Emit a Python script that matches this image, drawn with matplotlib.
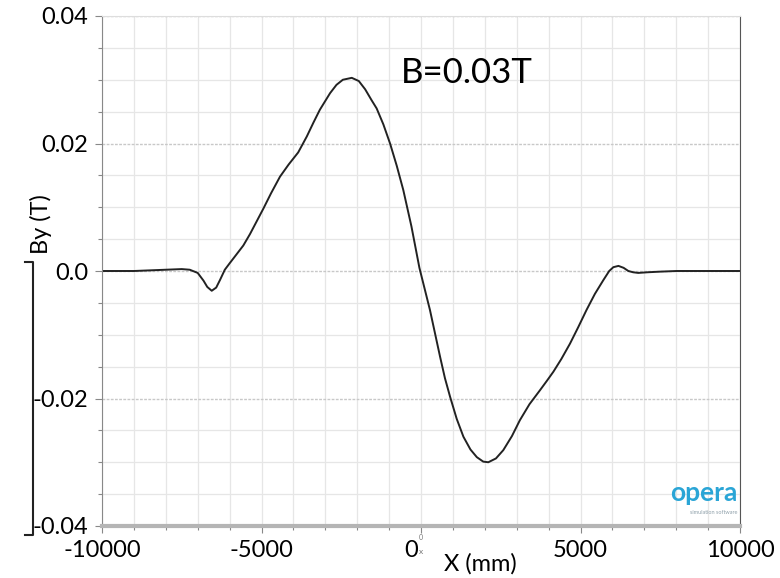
import matplotlib
matplotlib.use("Agg")
import matplotlib.pyplot as plt
import matplotlib.transforms as mtransforms
from matplotlib.lines import Line2D
from matplotlib.ticker import MultipleLocator

plt.rcParams['font.family'] = ['Lato', 'DejaVu Sans']

# values
x_mm = [-10000, -9000, -8000, -7500, -7250, -7000, -6820, -6700, -6560, -6420,
        -6300, -6150, -6000, -5800, -5570, -5360, -5150, -4940, -4700, -4420,
        -4150, -3850, -3580, -3370, -3170, -2850, -2650, -2450, -2170, -1950,
        -1750, -1550, -1390, -1180, -970, -760, -555, -300, -50, 100,
        280, 440, 600, 750, 910, 1120, 1330, 1550, 1750, 1950,
        2110, 2350, 2580, 2850, 3100, 3400, 3730, 3950, 4150, 4400,
        4670, 4930, 5190, 5450, 5720, 5900, 6030, 6190, 6350, 6500,
        6650, 6810, 7100, 7500, 8010, 9000, 10000]
by_t = [0.0, 0.0, 0.0002, 0.0003, 0.0002, -0.0003, -0.0015, -0.0025, -0.0031, -0.0026,
        -0.0014, 0.0002, 0.0012, 0.0025, 0.0040, 0.0058, 0.0078, 0.0098, 0.0122, 0.0148,
        0.0167, 0.0186, 0.0211, 0.0233, 0.0253, 0.0279, 0.0292, 0.0300, 0.0303, 0.0298,
        0.0285, 0.0268, 0.0255, 0.0230, 0.0200, 0.0165, 0.0127, 0.0070, 0.0005, -0.0025,
        -0.0061, -0.0098, -0.0135, -0.0168, -0.0197, -0.0232, -0.0260, -0.0280, -0.0292, -0.0299,
        -0.0300, -0.0294, -0.0281, -0.0259, -0.0234, -0.0209, -0.0187, -0.0172, -0.0158, -0.0138,
        -0.0114, -0.0088, -0.0061, -0.0036, -0.0014, 0.0000, 0.0006, 0.0008, 0.0005, 0.0000,
        -0.0002, -0.0003, -0.0002, -0.0001, 0.0, 0.0, 0.0]

xticks = [-10000, -5000, 0, 5000, 10000]
xticklabels = ["-10000", "-5000", "0", "5000", "10000"]
yticks = [-0.04, -0.02, 0.0, 0.02, 0.04]
yticklabels = ["-0.04", "-0.02", "0.0", "0.02", "0.04"]

fig = plt.figure(figsize=(7.8, 5.78), dpi=100)
ax = fig.add_axes([102/780, 1 - 526/578, (740 - 102)/780, (526 - 16)/578])

ax.plot(x_mm, by_t, color="#222222", lw=1.4)

ax.set_xlim(-10000, 10000)
ax.set_ylim(-0.04, 0.04)
ax.set_xticks(xticks)
ax.set_xticklabels(xticklabels)
ax.set_yticks(yticks)
ax.set_yticklabels(yticklabels)
ax.xaxis.set_minor_locator(MultipleLocator(1000))
ax.yaxis.set_minor_locator(MultipleLocator(0.005))

ax.grid(which="minor", color="#e6e6e6", lw=0.9)
ax.grid(which="major", axis="x", color="#e6e6e6", lw=0.9)
ax.grid(which="major", axis="y", color="#c8c8c8", lw=1.0, ls=(0, (2, 1)))
ax.set_axisbelow(True)

ax.tick_params(which="both", direction="out", colors="#888888", labelcolor="black",
               labelsize=17, width=0.8)
ax.tick_params(which="major", length=5, pad=5)
ax.tick_params(which="minor", length=3)

# the "0" label sits a little left of its tick in the reference
zero_lbl = ax.get_xticklabels()[2]
zero_lbl.set_transform(zero_lbl.get_transform() +
                       mtransforms.ScaledTranslation(-0.1, 0, fig.dpi_scale_trans))

ax.spines["left"].set_color("#888888")
ax.spines["right"].set_color("#555555")
ax.spines["top"].set_color("#dddddd")
ax.spines["bottom"].set_color("#b5b5b5")
ax.spines["bottom"].set_linewidth(3)

ax.text(-620, 0.0311, "B=0.03T", fontsize=25, ha="left", va="center")

# logo in the corner
ax.text(0.996, 0.042, "opera", transform=ax.transAxes, color="#2aa5d6", fontsize=19,
        fontweight="bold", ha="right", va="bottom")
ax.text(0.996, 0.022, "simulation software", transform=ax.transAxes, color="#8fa0aa",
        fontsize=4, ha="right", va="bottom")

fig.text(41/780, 1 - 224/578, "By (T)", rotation=90, fontsize=17, ha="center", va="center")
fig.text(480/780, 1 - 564/578, "X (mm)", fontsize=17, ha="center", va="center")
fig.text(419/780, 1 - 537/578, "0", fontsize=5, color="#777777", ha="left", va="center")
fig.text(419/780, 1 - 552/578, "x", fontsize=6, color="#777777", ha="left", va="center")

# bracket on the left
fig.add_artist(Line2D([25/780, 33/780, 33/780, 25/780],
                      [1 - 262/578, 1 - 262/578, 1 - 535/578, 1 - 535/578],
                      color="#222222", lw=1.5))

fig.savefig("out.png", dpi=100)
